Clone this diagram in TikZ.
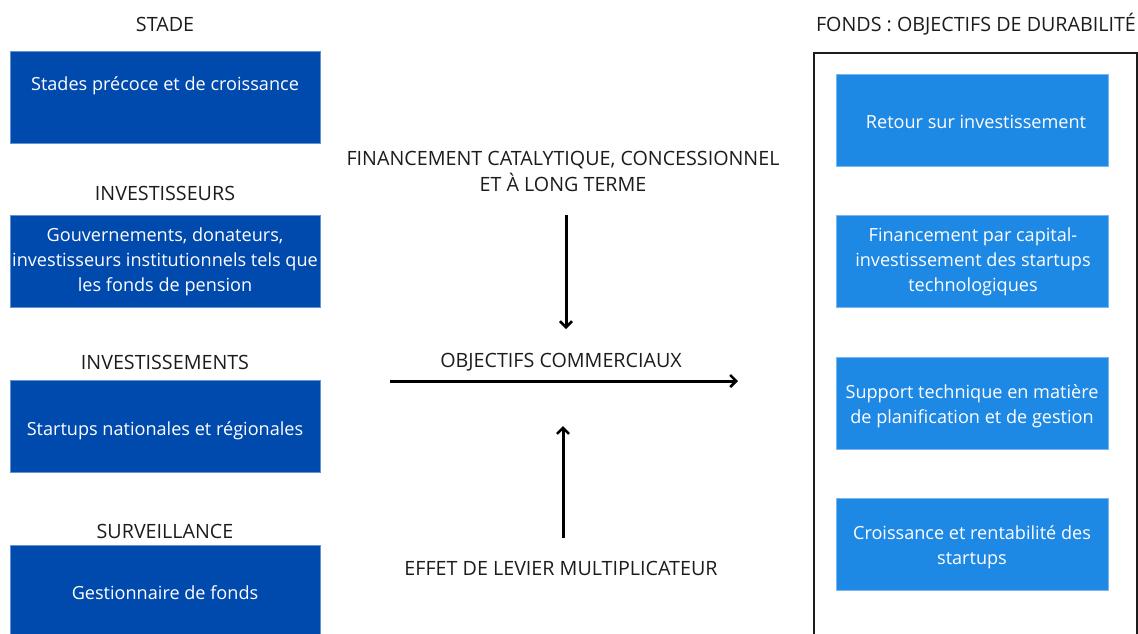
\documentclass[tikz,border=0pt]{standalone}
\usepackage{fontspec}
\setmainfont{Open Sans}
\usetikzlibrary{arrows.meta}
\definecolor{stagecol}{HTML}{004AAD}
\definecolor{goalcol}{HTML}{1E88E5}
\definecolor{inkcol}{HTML}{1C1C1C}

\tikzset{
  headfont/.style={font=\fontsize{19.7}{26}\selectfont},
  bodyfont/.style={font=\fontsize{18.1}{24.8}\selectfont},
  heading/.style={headfont, text=inkcol, align=center, inner sep=0pt},
  leftbox/.style={fill=stagecol, draw=stagecol!60!white, line width=0.6pt,
    minimum width=310pt, minimum height=92pt, anchor=north west, inner sep=0pt},
  rightbox/.style={fill=goalcol, draw=goalcol!60!white, line width=0.6pt,
    minimum width=272pt, minimum height=92pt, anchor=north west, inner sep=0pt},
  boxtext/.style={bodyfont, text=white, align=center, inner sep=0pt},
  flow/.style={line width=3pt, draw=black, -{Straight Barb[length=6pt,width=12pt,line width=2.6pt]}},
}

\begin{document}
\begin{tikzpicture}[x=1pt,y=-1pt]
  \useasboundingbox (0,0) rectangle (1138,633);
  \clip (0,0) rectangle (1138,633);

  % left column: stage, investors, investments, oversight
  \node[heading] (hStade) at (165,24) {STADE};
  \node[leftbox] (bStade) at (10,51) {};
  \node[boxtext] (tStade) at (165,86) {Stades précoce et de croissance};

  \node[heading] (hInv) at (165,193) {INVESTISSEURS};
  \node[leftbox] (bInv) at (10,215) {};
  \node[boxtext] (tInv) at (165,262) {Gouvernements, donateurs,\\investisseurs institutionnels tels que\\les fonds de pension};

  \node[heading] (hInvt) at (165,362) {INVESTISSEMENTS};
  \node[leftbox] (bInvt) at (10,380) {};
  \node[boxtext] (tInvt) at (165,431) {Startups nationales et régionales};

  \node[heading] (hSurv) at (165,531) {SURVEILLANCE};
  \node[leftbox, minimum height=100pt] (bSurv) at (10,545) {};
  \node[boxtext] (tSurv) at (165,593) {Gestionnaire de fonds};

  % centre: financing flows
  \node[heading] (hFin) at (563,171) {FINANCEMENT CATALYTIQUE, CONCESSIONNEL\\ET À LONG TERME};
  \node[heading] (hObj) at (561,362) {OBJECTIFS COMMERCIAUX};
  \node[heading] (hLev) at (561,568) {EFFET DE LEVIER MULTIPLICATEUR};

  \coordinate (downTop) at (566,215);
  \coordinate (downEnd) at (566,329);
  \coordinate (upBot) at (563,538);
  \coordinate (upEnd) at (563,426);
  \coordinate (hStart) at (390,381);
  \coordinate (hEnd) at (738,381);
  \draw[flow] (downTop) -- (downEnd);
  \draw[flow] (upBot) -- (upEnd);
  \draw[flow] (hStart) -- (hEnd);

  % right column: fund sustainability goals
  \node[heading] (hFonds) at (976,24) {FONDS : OBJECTIFS DE DURABILITÉ};
  \node[draw=inkcol, line width=2pt, minimum width=323pt, minimum height=600pt,
        anchor=north west, inner sep=0pt] (frame) at (813,52) {};

  \node[rightbox] (g1) at (836,74) {};
  \node[boxtext] (tg1) at (976,121.5) {Retour sur investissement};
  \node[rightbox] (g2) at (836,215) {};
  \node[boxtext] (tg2) at (973,262) {Financement par capital-\\investissement des startups\\technologiques};
  \node[rightbox] (g3) at (836,357) {};
  \node[boxtext] (tg3) at (972,406) {Support technique en matière\\de planification et de gestion};
  \node[rightbox] (g4) at (836,498) {};
  \node[boxtext] (tg4) at (972,547) {Croissance et rentabilité des\\startups};
\end{tikzpicture}
\end{document}
